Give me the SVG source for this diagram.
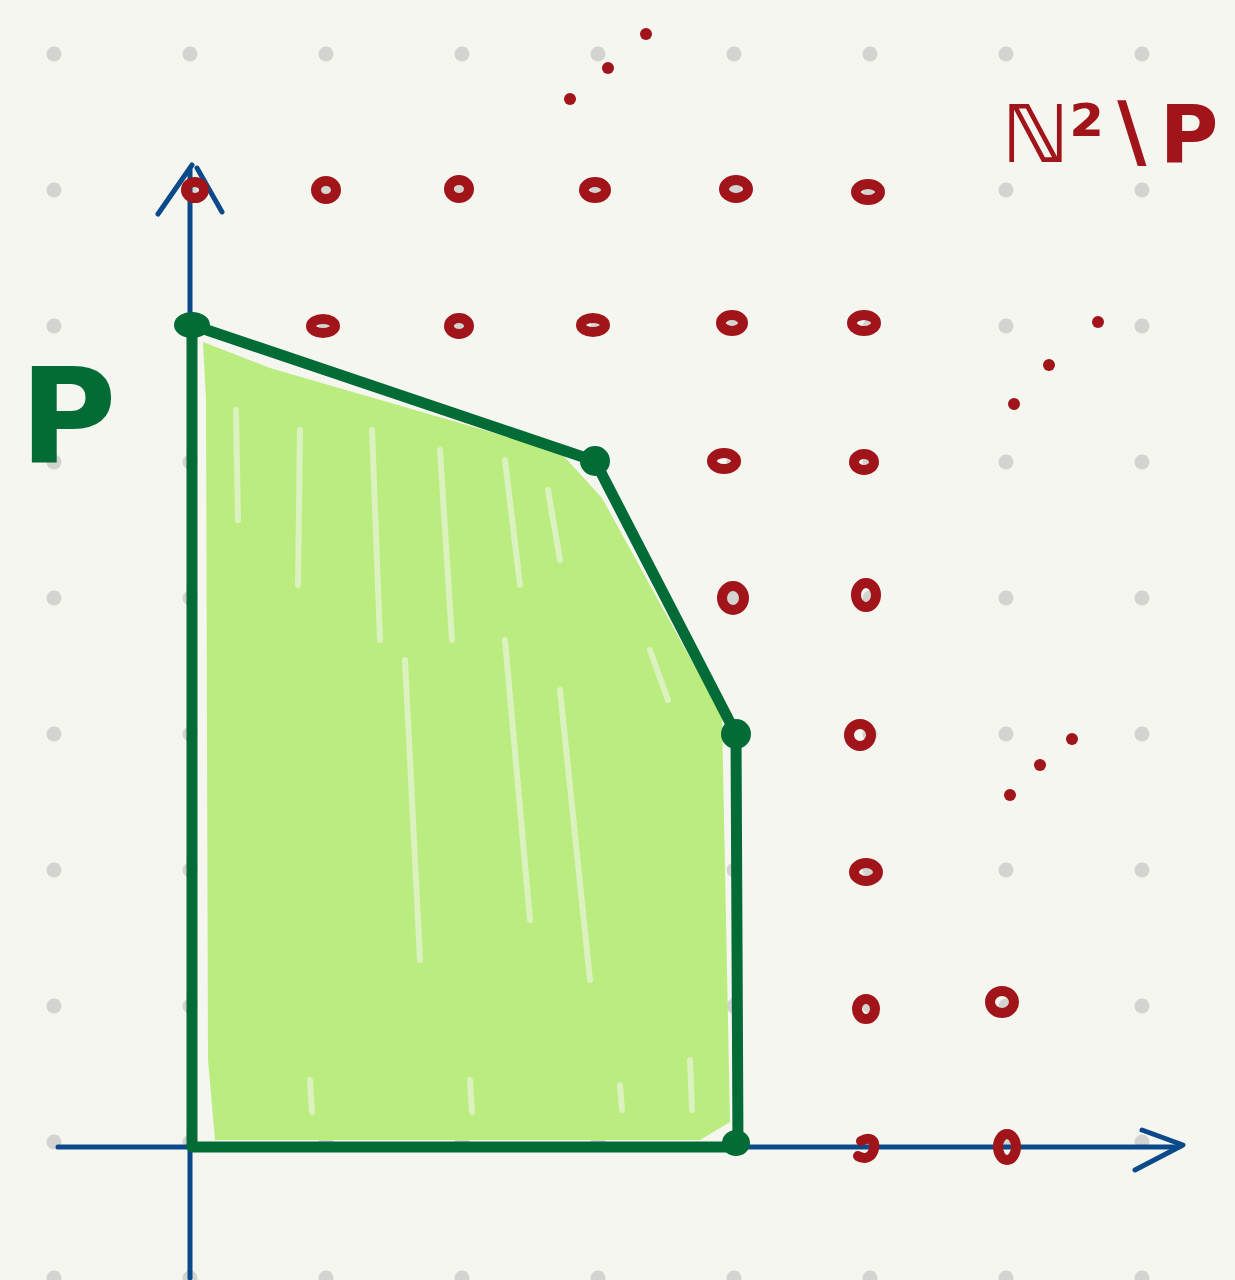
<svg xmlns="http://www.w3.org/2000/svg" width="1235" height="1280" viewBox="0 0 1235 1280">
<style>
.g{fill:#d3d3cf}
.ax{stroke:#0a4a8a;stroke-width:5;fill:none;stroke-linecap:round;stroke-linejoin:round}
.pt{fill:none;stroke:#a0141a;stroke-width:10}
.sd{fill:#a0141a}
.poly{fill:none;stroke:#036b35;stroke-width:11;stroke-linecap:round;stroke-linejoin:round}
.v{fill:#036b35}
.streak{stroke:#f6f6f1;stroke-width:6;stroke-linecap:round;opacity:0.55}
</style>
<defs>
<pattern id="grid" x="-14" y="-14" width="136" height="136" patternUnits="userSpaceOnUse">
<circle cx="68" cy="68" r="7.5" class="g"/>
</pattern>
</defs>
<rect width="1235" height="1280" fill="#f6f6f1"/>
<rect width="1235" height="1280" fill="url(#grid)"/>
<g id="region-fill">
<polygon points="203,342 270,368 560,452 602,498 722,716 730,1122 700,1140 215,1140 208,1060 206,400" fill="#bbec80"/>
<g>
<line class="streak" x1="236" y1="410" x2="238" y2="520"/>
<line class="streak" x1="300" y1="430" x2="298" y2="585"/>
<line class="streak" x1="372" y1="430" x2="380" y2="640"/>
<line class="streak" x1="405" y1="660" x2="420" y2="960"/>
<line class="streak" x1="440" y1="450" x2="452" y2="640"/>
<line class="streak" x1="505" y1="460" x2="520" y2="585"/>
<line class="streak" x1="505" y1="640" x2="530" y2="920"/>
<line class="streak" x1="548" y1="490" x2="560" y2="560"/>
<line class="streak" x1="560" y1="690" x2="590" y2="980"/>
<line class="streak" x1="650" y1="650" x2="668" y2="700"/>
<line class="streak" x1="310" y1="1080" x2="312" y2="1112"/>
<line class="streak" x1="470" y1="1080" x2="472" y2="1112"/>
<line class="streak" x1="620" y1="1085" x2="622" y2="1110"/>
<line class="streak" x1="690" y1="1060" x2="692" y2="1110"/>
</g>
</g>
<g id="axes">
<line class="ax" x1="190" y1="1278" x2="190" y2="170"/>
<polyline class="ax" points="158,214 192,165"/>
<polyline class="ax" points="197,168 222,212"/>
<line class="ax" x1="58" y1="1147" x2="1178" y2="1147"/>
<polyline class="ax" points="1142,1130 1183,1145 1135,1170"/>
</g>
<g id="lattice-points">
<ellipse class="pt" cx="195" cy="190" rx="9" ry="8"/>
<ellipse class="pt" cx="326" cy="190" rx="10" ry="9"/>
<ellipse class="pt" cx="459" cy="189" rx="10" ry="9"/>
<ellipse class="pt" cx="595" cy="190" rx="11" ry="8"/>
<ellipse class="pt" cx="736" cy="189" rx="12" ry="9"/>
<ellipse class="pt" cx="868" cy="192" rx="12" ry="8"/>
<ellipse class="pt" cx="323" cy="326" rx="12" ry="7"/>
<ellipse class="pt" cx="459" cy="326" rx="10" ry="8"/>
<ellipse class="pt" cx="593" cy="325" rx="12" ry="7"/>
<ellipse class="pt" cx="732" cy="323" rx="11" ry="8"/>
<ellipse class="pt" cx="864" cy="323" rx="12" ry="8"/>
<ellipse class="pt" cx="724" cy="461" rx="12" ry="8"/>
<ellipse class="pt" cx="864" cy="462" rx="10" ry="8"/>
<ellipse class="pt" cx="733" cy="598" rx="11" ry="12"/>
<ellipse class="pt" cx="866" cy="595" rx="10" ry="12"/>
<ellipse class="pt" cx="860" cy="735" rx="11" ry="11"/>
<ellipse class="pt" cx="866" cy="872" rx="12" ry="9"/>
<ellipse class="pt" cx="866" cy="1009" rx="9" ry="10"/>
<ellipse class="pt" cx="1002" cy="1002" rx="12" ry="11"/>
<path class="pt" d="M861,1141 C870,1136 876,1140 874,1149 C872,1158 864,1160 858,1156" stroke-linecap="round"/>
<ellipse class="pt" cx="1007" cy="1147" rx="9" ry="13"/>
</g>
<g id="ellipsis-dots">
<circle class="sd" cx="570" cy="99" r="6"/>
<circle class="sd" cx="608" cy="68" r="6"/>
<circle class="sd" cx="646" cy="34" r="6"/>
<circle class="sd" cx="1014" cy="404" r="6"/>
<circle class="sd" cx="1049" cy="365" r="6"/>
<circle class="sd" cx="1098" cy="322" r="6"/>
<circle class="sd" cx="1010" cy="795" r="6"/>
<circle class="sd" cx="1040" cy="765" r="6"/>
<circle class="sd" cx="1072" cy="739" r="6"/>
</g>
<g id="polytope-P">
<polyline class="poly" points="192,325 595,461 736,734 738,1147 192,1147 192,325"/>
<ellipse class="v" cx="192" cy="325" rx="18" ry="13"/>
<circle class="v" cx="595" cy="461" r="15"/>
<circle class="v" cx="736" cy="734" r="15"/>
<ellipse class="v" cx="736" cy="1143" rx="14" ry="13"/>
</g>
<g id="label-P">
<text x="68" y="462" font-family="DejaVu Sans, sans-serif" font-size="132" font-weight="bold" fill="#036b35" text-anchor="middle">P</text>
</g>
<g id="label-N2-minus-P">
<text x="1002" y="162" font-family="DejaVu Sans, sans-serif" font-size="80" font-weight="bold" fill="#a0141a">ℕ²∖P</text>
</g>
</svg>
